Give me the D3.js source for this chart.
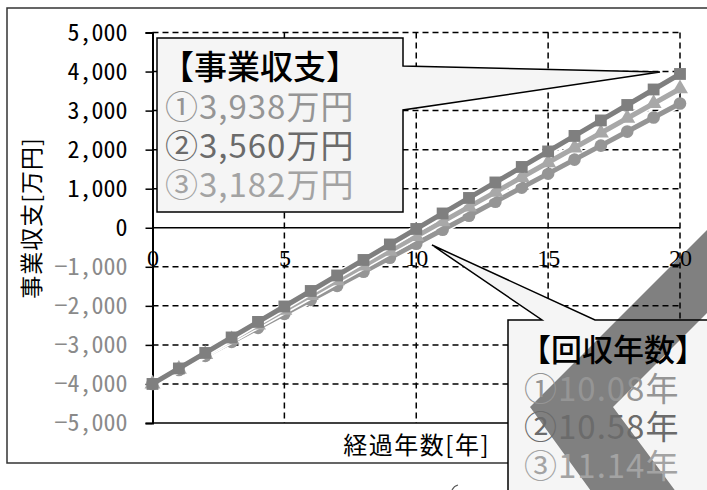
<!DOCTYPE html>
<html>
<head>
<meta charset="utf-8">
<script src="https://cdn.jsdelivr.net/npm/d3@7"></script>
<style>
  body { margin: 0; background: #fff; }
  svg { display: block; font-family: "Noto Sans CJK JP", sans-serif; }
</style>
</head>
<body>
<svg></svg>
<script>
const size = {w: 707, h: 490};
const svg = d3.select('svg').attr('width', size.w).attr('height', size.h);

// years on the x axis
const years = d3.range(0, 21);
// 事業収支 [万円] for the three cases
const case1 = [-4000, -3603, -3206, -2809, -2412, -2016, -1619, -1222, -825, -428, -31,
               366, 763, 1160, 1557, 1954, 2351, 2748, 3144, 3541, 3938];
const case2 = [-4000, -3622, -3244, -2866, -2488, -2110, -1732, -1354, -976, -598, -220,
               158, 536, 914, 1292, 1670, 2048, 2426, 2804, 3182, 3560];
const case3 = [-4000, -3641, -3282, -2923, -2564, -2205, -1846, -1487, -1127, -768, -409,
               -50, 309, 668, 1027, 1386, 1745, 2104, 2463, 2823, 3182];
const yTicks = [5000, 4000, 3000, 2000, 1000, 0, -1000, -2000, -3000, -4000, -5000];
const xTicks = [0, 5, 10, 15, 20];
const balanceLines = ['【事業収支】', '①3,938万円', '②3,560万円', '③3,182万円'];
const paybackLines = ['【回収年数】', '①10.08年', '②10.58年', '③11.14年'];

const x = d3.scaleLinear().domain([0, 20]).range([152.5, 680]);
const y = d3.scaleLinear().domain([-5000, 5000]).range([423, 32.5]);

const callout1 = 'M157,38 H403 V66 L660,72 L403,110 V212 H157 Z';
const callout2 = 'M508,320 H542 L432,245 L595,320 H720 V500 H508 Z';
const band = 'M740,197 L530,407 L612,520 L697,520 L613,407 L823,197 Z';

svg.append('clipPath').attr('id', 'clip2')
    .append('path').attr('d', callout2);

// outer chart frame
svg.append('path')
    .attr('d', 'M720,8 H7 V463 H520')
    .attr('fill', 'none')
    .attr('stroke', '#333')
    .attr('stroke-width', 1.5);
// small stray stroke under the frame
svg.append('path')
    .attr('d', 'M452,490 Q454,486 458,485')
    .attr('fill', 'none')
    .attr('stroke', '#555')
    .attr('stroke-width', 1.2);

// grey chevron band, sits under the grid
svg.append('path').attr('d', band).attr('fill', '#808080');

// dashed grid
const plotG = svg.append('g');
plotG.selectAll('line.hgrid')
    .data(yTicks.filter(d => d !== 0 && d !== -5000))
    .join('line').attr('class', 'hgrid')
    .attr('x1', x(0)).attr('x2', x(20))
    .attr('y1', d => y(d)).attr('y2', d => y(d))
    .attr('stroke', '#000').attr('stroke-width', 1.5)
    .attr('stroke-dasharray', '6,4');
plotG.selectAll('line.vgrid')
    .data(xTicks.filter(d => d !== 0))
    .join('line').attr('class', 'vgrid')
    .attr('x1', d => x(d)).attr('x2', d => x(d))
    .attr('y1', y(5000)).attr('y2', y(-5000))
    .attr('stroke', '#000').attr('stroke-width', 1.5)
    .attr('stroke-dasharray', '6,4');

// zero line + bottom edge
plotG.append('line')
    .attr('x1', x(0)).attr('x2', x(20)).attr('y1', y(0)).attr('y2', y(0))
    .attr('stroke', '#000').attr('stroke-width', 1.5);
plotG.append('line')
    .attr('x1', x(0)).attr('x2', x(20)).attr('y1', y(-5000)).attr('y2', y(-5000))
    .attr('stroke', '#000').attr('stroke-width', 1.5);

// y axis
const yAxis = d3.axisLeft(y)
    .tickValues(yTicks)
    .tickSize(7)
    .tickPadding(18)
    .tickFormat(d3.format(','));
const yAxisG = svg.append('g')
    .attr('transform', `translate(${x(0)},0)`)
    .call(yAxis);
yAxisG.select('.domain').attr('stroke', '#000').attr('stroke-width', 2);
yAxisG.selectAll('.tick line').attr('stroke', '#000').attr('stroke-width', 1.5);
yAxisG.selectAll('.tick text')
    .attr('font-family', '"Noto Sans Mono CJK JP", "DejaVu Sans Mono", monospace')
    .attr('font-size', 24)
    .attr('fill', d => d < 0 ? '#8a8a8a' : '#000');

// x tick labels sit just under the zero line
svg.append('g').selectAll('text')
    .data(xTicks)
    .join('text')
    .attr('x', d => x(d))
    .attr('y', y(0) + 38)
    .attr('text-anchor', 'middle')
    .attr('font-family', '"Liberation Serif", serif')
    .attr('font-size', 24)
    .attr('letter-spacing', -1)
    .attr('fill', '#000')
    .text(d => d);

// axis titles
svg.append('text')
    .attr('transform', 'translate(40,218) rotate(-90)')
    .attr('text-anchor', 'middle')
    .attr('font-size', 23)
    .attr('letter-spacing', 1)
    .attr('fill', '#000')
    .text('事業収支[万円]');
svg.append('text')
    .attr('x', 490).attr('y', 454)
    .attr('text-anchor', 'end')
    .attr('font-size', 24)
    .attr('letter-spacing', 1.5)
    .attr('fill', '#000')
    .text('経過年数[年]');

// series
const series = [
    {name: '③', values: case3, color: '#959595', shape: d3.symbolCircle, area: 125},
    {name: '②', values: case2, color: '#a8a8a8', shape: d3.symbolTriangle, area: 110},
    {name: '①', values: case1, color: '#7f7f7f', shape: d3.symbolSquare, area: 140}
];
const line = d3.line().x((d, i) => x(years[i])).y(d => y(d));
const seriesG = svg.append('g');
series.forEach(s => {
    const g = seriesG.append('g');
    g.append('path')
        .attr('d', line(s.values))
        .attr('fill', 'none')
        .attr('stroke', '#fff')
        .attr('stroke-width', 8);
    g.append('path')
        .attr('d', line(s.values))
        .attr('fill', 'none')
        .attr('stroke', s.color)
        .attr('stroke-width', 5);
    g.selectAll('path.mark')
        .data(s.values)
        .join('path').attr('class', 'mark')
        .attr('transform', (d, i) => `translate(${x(years[i])},${y(d)})`)
        .attr('d', d3.symbol().type(s.shape).size(s.area))
        .attr('fill', s.color);
});

// callout: 事業収支
svg.append('path')
    .attr('d', callout1)
    .attr('fill', '#f5f5f5')
    .attr('stroke', '#000')
    .attr('stroke-width', 1.5);

// callout: 回収年数, the band shows through it
svg.append('path')
    .attr('d', callout2)
    .attr('fill', '#f5f5f5');
svg.append('path')
    .attr('d', band)
    .attr('clip-path', 'url(#clip2)')
    .attr('fill', '#808080');
svg.append('path')
    .attr('d', callout2)
    .attr('fill', 'none')
    .attr('stroke', '#000')
    .attr('stroke-width', 1.5);

const rowColors = ['#000', '#959595', '#6b6b6b', '#a3a3a3'];
function calloutText(lines, x0, baselines, titleSize) {
    svg.append('g').selectAll('text')
        .data(lines)
        .join('text')
        .attr('x', (d, i) => i === 0 ? x0 - 4 : x0)
        .attr('y', (d, i) => baselines[i])
        .attr('font-size', (d, i) => i === 0 ? titleSize : 33)
        .attr('letter-spacing', (d, i) => i === 0 ? 0 : 1)
        .attr('font-weight', (d, i) => i === 0 ? 500 : 400)
        .attr('fill', (d, i) => rowColors[i])
        .text(d => d);
}
calloutText(balanceLines, 165, [79, 119, 158, 197], 33);
calloutText(paybackLines, 524, [361, 401, 439, 478], 31);
</script>
</body>
</html>
